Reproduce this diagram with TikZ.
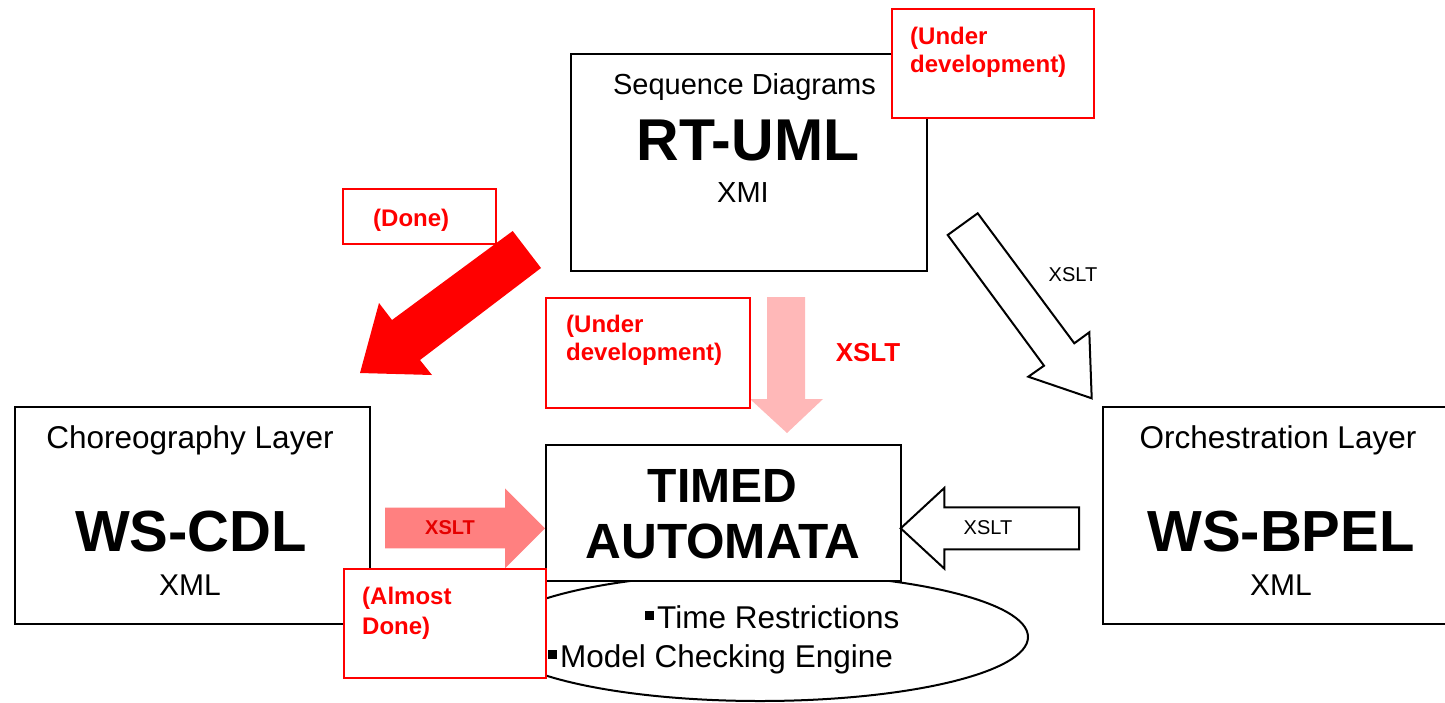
\documentclass[tikz,border=0pt]{standalone}
\usepackage{fontspec}
\setmainfont{Liberation Sans}
\definecolor{notered}{RGB}{255,0,0}
\definecolor{palepink}{RGB}{255,184,184}
\definecolor{salmon}{RGB}{255,128,128}
\newcommand\sizeat[1]{\fontsize{#1}{#1}\selectfont}
\newcommand\sqbullet{\rule[8pt]{9pt}{9pt}\hspace{3pt}}
\tikzset{
  box/.style={draw=black, line width=2pt, fill=white, inner sep=0pt, anchor=north west},
  note/.style={draw=notered, line width=2pt, fill=white, inner sep=0pt, anchor=north west},
  notetext/.style={text=notered, font=\sizeat{24}\bfseries, anchor=base west, inner sep=0pt},
  plain/.style={font=\sizeat{31.5}, anchor=base, inner sep=0pt},
  big/.style={font=\sizeat{58}\bfseries, anchor=base, inner sep=0pt},
  hollow/.style={draw=black, line width=2pt, fill=white, line join=miter},
  small/.style={font=\sizeat{20}, anchor=base, inner sep=0pt},
}
\begin{document}
\begin{tikzpicture}[x=1pt, y=-1pt]
\useasboundingbox (0,0) rectangle (1445,702);

% engine ellipse behind the automata box
\draw[line width=2pt, fill=white] (760,637) ellipse [x radius=268, y radius=64];

% layer boxes
\node[box, minimum width=356pt, minimum height=217pt] (rtuml) at (570,53) {};
\node[box, minimum width=355pt, minimum height=217pt] (chor) at (14,406) {};
\node[box, minimum width=360pt, minimum height=217pt] (orch) at (1102,406) {};
\node[box, minimum width=355pt, minimum height=136pt] (ta) at (545,444) {};

% box contents
\node[plain, font=\sizeat{29}] (seqd) at (744.5,94) {Sequence Diagrams};
\node[big, font=\sizeat{59}\bfseries] (rtumlt) at (748,160) {RT-UML};
\node[plain, font=\sizeat{29}] (xmi) at (743,202) {XMI};

\node[plain] (chort) at (190,448) {Choreography Layer};
\node[big] (wscdl) at (191,551) {WS-CDL};
\node[plain, font=\sizeat{30}] (xmlc) at (190,595) {XML};

\node[plain] (orcht) at (1278,448) {Orchestration Layer};
\node[big] (wsbpel) at (1281,551) {WS-BPEL};
\node[plain, font=\sizeat{30}] (xmlo) at (1281,595) {XML};

\node[big, font=\sizeat{48}\bfseries] (timed) at (722.5,502) {TIMED};
\node[big, font=\sizeat{49.5}\bfseries] (autom) at (723,558.5) {AUTOMATA};

\node[plain, anchor=base west] (tr) at (645,628) {\sqbullet Time Restrictions};
\node[plain, anchor=base west] (mce) at (548,667) {\sqbullet Model Checking Engine};

% transformation arrows
\fill[notered] (512.7,231) -- (541,268) -- (420,360) -- (432,375) -- (360,373)
  -- (379,303) -- (392,320) -- cycle;
\fill[palepink] (767,297) -- (805,297) -- (805,399) -- (823,399) -- (787,433)
  -- (750,399) -- (767,399) -- cycle;
\node[font=\sizeat{26}\bfseries, text=notered, anchor=base, inner sep=0pt] (xsltc) at (868,361) {XSLT};

\draw[hollow] (947.7,235) -- (977.7,213.3) -- (1074.3,343.3) -- (1089.3,332.3)
  -- (1091.7,398.3) -- (1028.3,376.7) -- (1044,365.7) -- cycle;
\node[small] (xsltd) at (1073,281) {XSLT};

\fill[salmon] (385,507.7) -- (505,507.7) -- (505,488.3) -- (545,528.3)
  -- (505,568.3) -- (505,548.3) -- (385,548.3) -- cycle;
\node[small, font=\sizeat{20}\bfseries, text=notered!90!black] (xsltl) at (450,534) {XSLT};

\draw[hollow] (1079,507.3) -- (944.3,507.3) -- (944.3,488) -- (900.7,528.3)
  -- (944.3,568.6) -- (944.3,549.3) -- (1079,549.3) -- cycle;
\node[small] (xsltr) at (988,534) {XSLT};

% status notes
\node[note, minimum width=202pt, minimum height=109pt] (n1) at (891,8) {};
\node[notetext] at (910,44) {(Under};
\node[notetext] at (910,72) {development)};

\node[note, minimum width=153pt, minimum height=55pt] (n2) at (342,188) {};
\node[notetext] at (373,226) {(Done)};

\node[note, minimum width=204pt, minimum height=110pt] (n3) at (545,297) {};
\node[notetext] at (566,332) {(Under};
\node[notetext] at (566,360) {development)};

\node[note, minimum width=202pt, minimum height=109pt] (n4) at (343,568) {};
\node[notetext] at (362,604) {(Almost};
\node[notetext] at (362,634) {Done)};
\end{tikzpicture}
\end{document}
